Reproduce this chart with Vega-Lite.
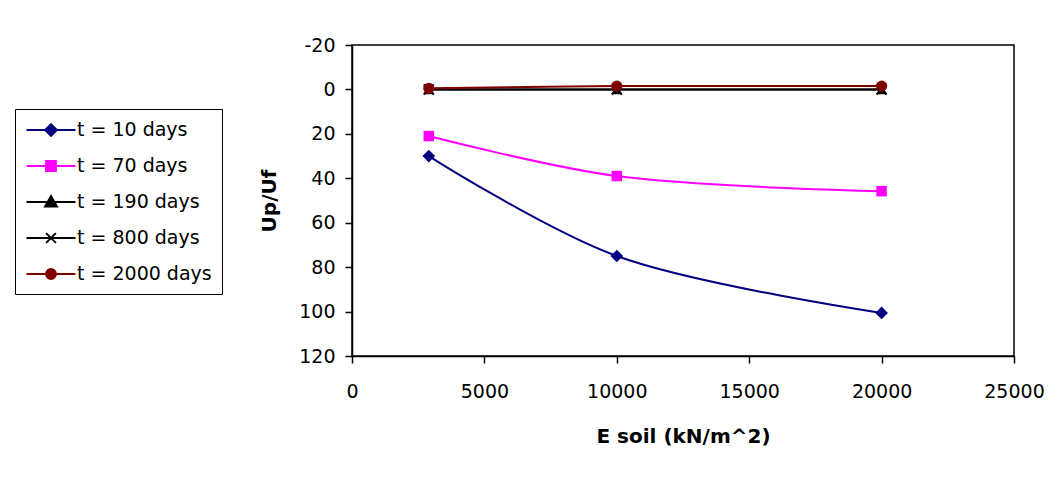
{
  "$schema": "https://vega.github.io/schema/vega-lite/v6.json",
  "width": 662,
  "height": 311,
  "autosize": {"type": "none"},
  "padding": {"left": 352, "top": 45, "right": 44, "bottom": 124},
  "background": "white",
  "config": {
    "font": "DejaVu Sans",
    "view": {"stroke": "black", "strokeWidth": 1.5},
    "axis": {
      "grid": false,
      "domainColor": "black",
      "tickColor": "black",
      "labelColor": "black",
      "titleColor": "black",
      "labelFont": "DejaVu Sans",
      "titleFont": "DejaVu Sans",
      "labelFontSize": 19,
      "titleFontSize": 20,
      "titleFontWeight": "bold",
      "tickSize": 7,
      "tickWidth": 1.5,
      "domainWidth": 1.5
    },
    "legend": {
      "orient": "none",
      "legendX": -337,
      "legendY": 64,
      "padding": 10,
      "strokeColor": "black",
      "fillColor": "white",
      "labelFontSize": 19,
      "labelFont": "DejaVu Sans",
      "labelColor": "black",
      "symbolSize": 384,
      "symbolStrokeWidth": 2,
      "rowPadding": 15,
      "symbolOffset": 15,
      "labelOffset": 15
    }
  },
  "data": {
    "values": [
      {"series": "t = 10 days", "E": 2900, "U": 30},
      {"series": "t = 10 days", "E": 10000, "U": 75},
      {"series": "t = 10 days", "E": 20000, "U": 100.6},
      {"series": "t = 70 days", "E": 2900, "U": 21},
      {"series": "t = 70 days", "E": 10000, "U": 39},
      {"series": "t = 70 days", "E": 20000, "U": 45.8},
      {"series": "t = 190 days", "E": 2900, "U": 0},
      {"series": "t = 190 days", "E": 10000, "U": 0},
      {"series": "t = 190 days", "E": 20000, "U": 0},
      {"series": "t = 800 days", "E": 2900, "U": 0},
      {"series": "t = 800 days", "E": 10000, "U": 0},
      {"series": "t = 800 days", "E": 20000, "U": 0},
      {"series": "t = 2000 days", "E": 2900, "U": -0.5},
      {"series": "t = 2000 days", "E": 10000, "U": -1.5},
      {"series": "t = 2000 days", "E": 20000, "U": -1.5}
    ]
  },
  "encoding": {
    "x": {
      "field": "E",
      "type": "quantitative",
      "scale": {"domain": [0, 25000], "nice": false},
      "axis": {
        "values": [0, 5000, 10000, 15000, 20000, 25000],
        "labelExpr": "datum.value + ''",
        "labelFlush": false,
        "labelPadding": 19,
        "title": "E soil (kN/m^2)",
        "titlePadding": 25
      }
    },
    "y": {
      "field": "U",
      "type": "quantitative",
      "scale": {"domain": [-20, 120], "reverse": true, "nice": false, "zero": false},
      "axis": {
        "values": [-20, 0, 20, 40, 60, 80, 100, 120],
        "labelExpr": "datum.value + ''",
        "labelFlush": false,
        "labelPadding": 10,
        "title": "Up/Uf",
        "titlePadding": 19
      }
    }
  },
  "layer": [
    {
      "mark": {"type": "line", "interpolate": "catmull-rom", "strokeWidth": 2},
      "encoding": {
        "stroke": {
          "field": "series",
          "type": "nominal",
          "title": null,
          "scale": {
            "domain": ["t = 10 days", "t = 70 days", "t = 190 days", "t = 800 days", "t = 2000 days"],
            "range": ["#000080", "#FF00FF", "#000000", "#000000", "#800000"]
          },
          "legend": {
            "encode": {
              "symbols": {
                "update": {
                  "fill": {"scale": "fill", "field": "value"},
                  "stroke": {"scale": "stroke", "field": "value"}
                }
              }
            }
          }
        }
      }
    },
    {
      "transform": [{"filter": "datum.series === 't = 10 days'"}],
      "mark": {"type": "point", "shape": "diamond", "filled": true, "fill": "#000080", "opacity": 1, "size": 160}
    },
    {
      "transform": [{"filter": "datum.series === 't = 70 days'"}],
      "mark": {"type": "point", "shape": "square", "filled": true, "fill": "#FF00FF", "opacity": 1, "size": 110}
    },
    {
      "transform": [{"filter": "datum.series === 't = 190 days'"}],
      "mark": {"type": "point", "shape": "triangle-up", "filled": true, "fill": "#000000", "opacity": 1, "size": 120}
    },
    {
      "transform": [{"filter": "datum.series === 't = 800 days'"}],
      "mark": {"type": "point", "shape": "M-1,-1L1,1M-1,1L1,-1", "filled": false, "stroke": "#000000", "strokeWidth": 2, "opacity": 1, "size": 100}
    },
    {
      "transform": [{"filter": "datum.series === 't = 2000 days'"}],
      "mark": {"type": "point", "shape": "circle", "filled": true, "fill": "#800000", "opacity": 1, "size": 125}
    },
    {
      "mark": {"type": "point", "filled": true, "opacity": 0, "strokeWidth": 2},
      "encoding": {
        "shape": {
          "field": "series",
          "type": "nominal",
          "title": null,
          "scale": {
            "domain": ["t = 10 days", "t = 70 days", "t = 190 days", "t = 800 days", "t = 2000 days"],
            "range": [
              "M-2.5,0H2.5M0,-0.6L0.6,0L0,0.6L-0.6,0Z",
              "M-2.5,0H2.5M-0.5,-0.5H0.5V0.5H-0.5Z",
              "M-2.5,0H2.5M0,-0.6L0.6,0.45H-0.6Z",
              "M-2.5,0H2.5M-0.5,-0.5L0.5,0.5M-0.5,0.5L0.5,-0.5",
              "M-2.5,0H2.5M-0.5,0A0.5,0.5 0 1,1 0.5,0A0.5,0.5 0 1,1 -0.5,0Z"
            ]
          }
        },
        "fill": {
          "field": "series",
          "type": "nominal",
          "title": null,
          "scale": {
            "domain": ["t = 10 days", "t = 70 days", "t = 190 days", "t = 800 days", "t = 2000 days"],
            "range": ["#000080", "#FF00FF", "#000000", "#000000", "#800000"]
          }
        },
        "stroke": {
          "field": "series",
          "type": "nominal",
          "title": null
        }
      }
    }
  ]
}
